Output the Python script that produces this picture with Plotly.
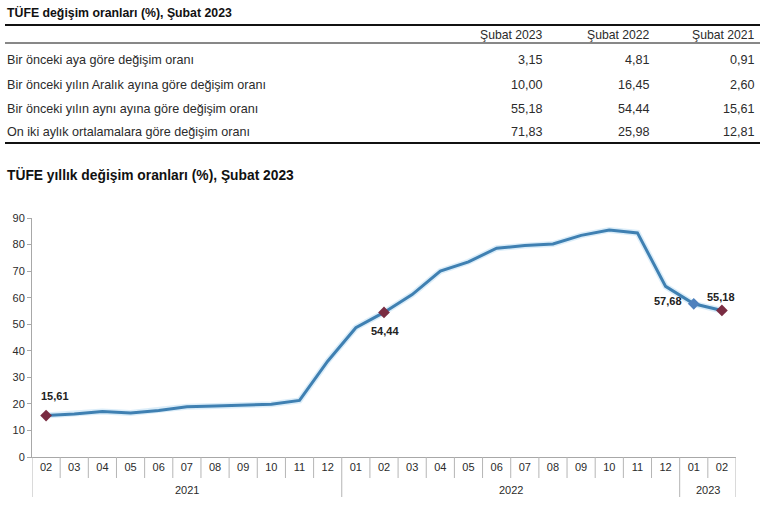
import plotly.graph_objects as go

# ---------------- data ----------------
table_title = "TÜFE değişim oranları (%), Şubat 2023"
chart_title = "TÜFE yıllık değişim oranları (%), Şubat 2023"
table_columns = ["Şubat 2023", "Şubat 2022", "Şubat 2021"]
table_rows = [
    "Bir önceki aya göre değişim oranı",
    "Bir önceki yılın Aralık ayına göre değişim oranı",
    "Bir önceki yılın aynı ayına göre değişim oranı",
    "On iki aylık ortalamalara göre değişim oranı",
]
col_2023 = ["3,15", "10,00", "55,18", "71,83"]
col_2022 = ["4,81", "16,45", "54,44", "25,98"]
col_2021 = ["0,91", "2,60", "15,61", "12,81"]

months = ["02", "03", "04", "05", "06", "07", "08", "09", "10", "11", "12",
          "01", "02", "03", "04", "05", "06", "07", "08", "09", "10", "11", "12",
          "01", "02"]
years = ["2021"] * 11 + ["2022"] * 12 + ["2023"] * 2
annual = [15.61, 16.19, 17.14, 16.59, 17.53, 18.95, 19.25, 19.58, 19.89, 21.31, 36.08,
          48.69, 54.44, 61.14, 69.97, 73.50, 78.62, 79.60, 80.21, 83.45, 85.51, 84.39, 64.27,
          57.68, 55.18]
highlight_idx = [0, 12, 23, 24]
highlight_labels = ["15,61", "54,44", "57,68", "55,18"]
y_ticks = [0, 10, 20, 30, 40, 50, 60, 70, 80, 90]

# ---------------- layout geometry (pixels) ----------------
W, H = 770, 509
PL, PR, PT, PB = 32, 736, 218, 457  # plot area


def px(xp):
    return (xp - PL) / (PR - PL)


def py(yp):
    return (PB - yp) / (PB - PT)


FONT = "Liberation Sans, Arial, sans-serif"
TXT = "#2b2b2b"
LINE = "#3f80b2"
MAROON = "#7a2c42"

x_idx = list(range(len(months)))

fig = go.Figure()
# glow
fig.add_trace(go.Scatter(x=x_idx, y=annual, mode="lines",
                         line=dict(color="rgba(110,185,230,0.25)", width=6),
                         hoverinfo="skip", showlegend=False))
fig.add_trace(go.Scatter(x=x_idx, y=annual, mode="lines",
                         line=dict(color=LINE, width=3),
                         showlegend=False))
hx = [x_idx[i] for i in highlight_idx]
hy = [annual[i] for i in highlight_idx]
fig.add_trace(go.Scatter(
    x=hx, y=hy, mode="markers",
    marker=dict(symbol="diamond", size=9,
                color=[MAROON, MAROON, "#4f81bd", MAROON]),
    showlegend=False))

shapes = []
annotations = []

# data labels (offsets in pixels)
label_shift = [(9, 20), (1, -19), (-26, 3), (-1, 13)]
for k, i in enumerate(highlight_idx):
    dx, dy = label_shift[k]
    annotations.append(dict(x=x_idx[i], y=annual[i], xref="x", yref="y",
                            text="<b>" + highlight_labels[k] + "</b>", showarrow=False,
                            xshift=dx, yshift=dy, xanchor="center", yanchor="middle",
                            font=dict(family=FONT, size=11, color="#222222")))

# x-axis separators
n = len(months)
for i in range(n + 1):
    b = i - 0.5
    is_year = (i == 0 or i == n or years[i] != years[i - 1])
    shapes.append(dict(type="line", xref="x", yref="paper",
                       x0=b, x1=b, y0=0, y1=py(497) if is_year else py(478),
                       line=dict(color="#b5b5b5", width=1)))
# year labels
groups = []
for i, yv in enumerate(years):
    if not groups or groups[-1][0] != yv:
        groups.append([yv, i, i])
    else:
        groups[-1][2] = i
for yv, a, b in groups:
    annotations.append(dict(x=(a + b) / 2, y=py(490), xref="x", yref="paper",
                            text=yv, showarrow=False,
                            font=dict(family=FONT, size=11, color=TXT),
                            xanchor="center", yanchor="middle"))

# titles
annotations.append(dict(x=px(5), y=py(12), xref="paper", yref="paper",
                        text="<b>" + table_title + "</b>", showarrow=False,
                        xanchor="left", yanchor="middle",
                        font=dict(family=FONT, size=12.3, color="#111111")))
annotations.append(dict(x=px(5), y=py(175), xref="paper", yref="paper",
                        text="<b>" + chart_title + "</b>", showarrow=False,
                        xanchor="left", yanchor="middle",
                        font=dict(family=FONT, size=13.8, color="#111111")))

# table lines
for yl, w in [(25, 2), (43, 1), (143, 2)]:
    shapes.append(dict(type="line", xref="paper", yref="paper",
                       x0=px(5), x1=px(760), y0=py(yl), y1=py(yl),
                       line=dict(color="#111111", width=w)))

col_right = [545, 652, 757]
for c, name in enumerate(table_columns):
    annotations.append(dict(x=px(col_right[c]), y=py(35), xref="paper", yref="paper",
                            text=name, showarrow=False, xanchor="right", yanchor="middle",
                            font=dict(family=FONT, size=12.2, color=TXT)))
row_y = [60, 85, 109, 132]
cols = [col_2023, col_2022, col_2021]
for r, label in enumerate(table_rows):
    annotations.append(dict(x=px(5), y=py(row_y[r]), xref="paper", yref="paper",
                            text=label, showarrow=False, xanchor="left", yanchor="middle",
                            font=dict(family=FONT, size=12.6, color=TXT)))
    for c in range(3):
        annotations.append(dict(x=px(col_right[c]), y=py(row_y[r]), xref="paper", yref="paper",
                                text=cols[c][r], showarrow=False, xanchor="right",
                                yanchor="middle",
                                font=dict(family=FONT, size=12.6, color=TXT)))

fig.update_layout(
    width=W, height=H,
    margin=dict(l=PL, r=W - PR, t=PT, b=H - PB, pad=0),
    paper_bgcolor="white", plot_bgcolor="white",
    shapes=shapes, annotations=annotations,
    font=dict(family=FONT, size=11, color=TXT),
    xaxis=dict(range=[-0.5, n - 0.5], tickmode="array", tickvals=x_idx,
               ticktext=months, ticks="", showgrid=False, zeroline=False,
               showline=True, linecolor="#a8a8a8", linewidth=1,
               tickfont=dict(family=FONT, size=11, color=TXT)),
    yaxis=dict(range=[0, 90], tickmode="array", tickvals=y_ticks,
               ticks="outside", ticklen=4, tickcolor="#a8a8a8",
               showgrid=False, zeroline=False, showline=True,
               linecolor="#a8a8a8", linewidth=1,
               tickfont=dict(family=FONT, size=11, color=TXT)),
)

fig.write_html("out.html", config={"displayModeBar": False},
               post_script="document.body.style.margin='0';")
